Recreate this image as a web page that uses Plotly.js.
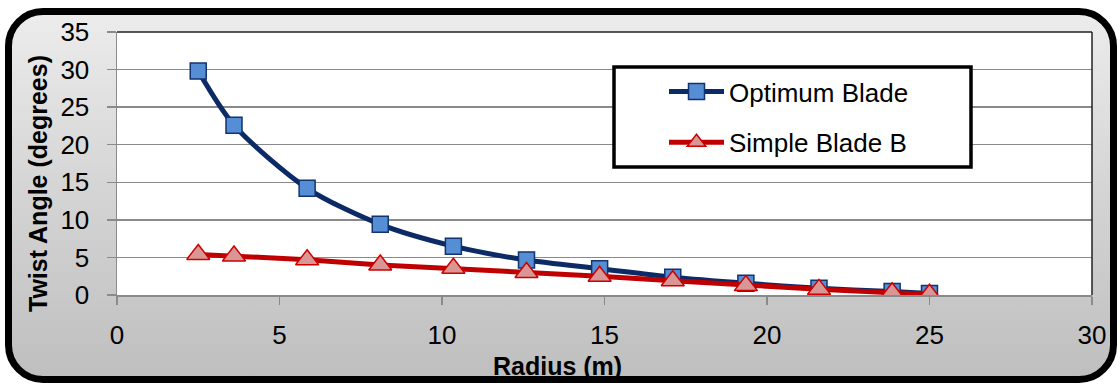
<!DOCTYPE html>
<html>
<head>
<meta charset="utf-8">
<script src="https://cdn.plot.ly/plotly-3.0.1.min.js"></script>
<style>
  html, body { margin:0; padding:0; width:1120px; height:384px; background:#fff; overflow:hidden; }
  #frame { position:absolute; left:5px; top:8px; width:1112px; height:375px; box-sizing:border-box;
           border:7px solid #000; border-radius:38px;
           background:linear-gradient(to bottom, #ececec 0%, #d6d6d6 45%, #bfbfbf 100%); }
  #chart { position:absolute; left:0; top:0; width:1120px; height:384px; }
</style>
</head>
<body>
<div id="frame"></div>
<div id="chart"></div>
<script>
// Data
const radius = [2.5, 3.6, 5.85, 8.1, 10.35, 12.6, 14.85, 17.1, 19.35, 21.6, 23.85, 25];
const optimumBlade = [29.8, 22.6, 14.2, 9.4, 6.5, 4.65, 3.5, 2.35, 1.55, 0.9, 0.45, 0.2];
const simpleBladeB = [5.4, 5.2, 4.7, 4.0, 3.55, 3.0, 2.5, 1.9, 1.25, 0.75, 0.3, 0.1];
const seriesNames = ["Optimum Blade", "Simple Blade B"];
const xTitle = "Radius (m)";
const yTitle = "Twist Angle (degrees)";

const FONT = "Liberation Sans, Arial, sans-serif";
const GRID = "#8a8a8a";

const traces = [
  {
    x: radius, y: optimumBlade, name: seriesNames[0], type: "scatter", mode: "lines+markers",
    legendgroup: "a",
    line: { color: "#0b2a66", width: 5, shape: "spline", smoothing: 0.8 },
    marker: { symbol: "square", size: 16, color: "#558ed5", line: { color: "#12336e", width: 1.5 } }
  },
  {
    x: radius, y: simpleBladeB, name: seriesNames[1], type: "scatter", mode: "lines+markers",
    legendgroup: "b",
    line: { color: "#c00000", width: 5 },
    marker: { symbol: "triangle-up", size: 20, color: "#d99694", line: { color: "#cc0000", width: 1.5 } }
  }
];

const L = 117, R = 1092, T = 32, B = 295;
const W = R - L, H = B - T;
function px(x) { return (x - L) / W; }
function py(y) { return (B - y) / H; }

const layout = {
  width: 1120, height: 384,
  margin: { l: L, r: 1120 - R, t: T, b: 384 - B },
  paper_bgcolor: "rgba(0,0,0,0)",
  plot_bgcolor: "#ffffff",
  font: { family: FONT, size: 26, color: "#000" },
  showlegend: true,
  legend: {
    x: px(664), y: py(68), xanchor: "left", yanchor: "top",
    bgcolor: "rgba(0,0,0,0)", borderwidth: 0,
    traceorder: "grouped", tracegroupgap: 14,
    itemwidth: 55,
    font: { family: FONT, size: 26, color: "#000" }
  },
  xaxis: {
    range: [0, 30], dtick: 5, tick0: 0,
    showgrid: false, zeroline: false,
    showline: true, linecolor: GRID, linewidth: 1.5,
    ticks: "outside", ticklen: 8, tickwidth: 1.5, tickcolor: GRID,
    ticklabelstandoff: 8,
    tickfont: { family: FONT, size: 26, color: "#000" },
    fixedrange: true
  },
  yaxis: {
    range: [0, 35], dtick: 5, tick0: 0,
    showgrid: true, gridcolor: GRID, gridwidth: 1.5,
    zeroline: false,
    showline: true, linecolor: GRID, linewidth: 1.5,
    ticks: "outside", ticklen: 9, tickwidth: 1.5, tickcolor: GRID,
    ticklabelstandoff: 12,
    tickfont: { family: FONT, size: 26, color: "#000" },
    fixedrange: true
  },
  annotations: [
    { text: xTitle, xref: "paper", yref: "paper", x: px(557), y: py(366), xanchor: "center", yanchor: "middle",
      showarrow: false, font: { family: FONT, size: 25, color: "#000", weight: "bold" } },
    { text: yTitle, xref: "paper", yref: "paper", x: px(38), y: py(184), xanchor: "center", yanchor: "middle",
      textangle: -90, showarrow: false, font: { family: FONT, size: 25, color: "#000", weight: "bold" } }
  ],
  shapes: [
    { type: "line", xref: "paper", yref: "paper", x0: 0, x1: 1, y0: 1, y1: 1, line: { color: "#222", width: 1.5 }, layer: "above" },
    { type: "line", xref: "paper", yref: "paper", x0: 1, x1: 1, y0: 0, y1: 1, line: { color: "#222", width: 1.5 }, layer: "above" },
    { type: "rect", xref: "paper", yref: "paper", x0: px(614), x1: px(971), y0: py(167), y1: py(67),
      fillcolor: "#ffffff", line: { color: "#000", width: 3.5 }, layer: "above" }
  ]
};

Plotly.newPlot("chart", traces, layout, { displayModeBar: false, staticPlot: true });
</script>
</body>
</html>
